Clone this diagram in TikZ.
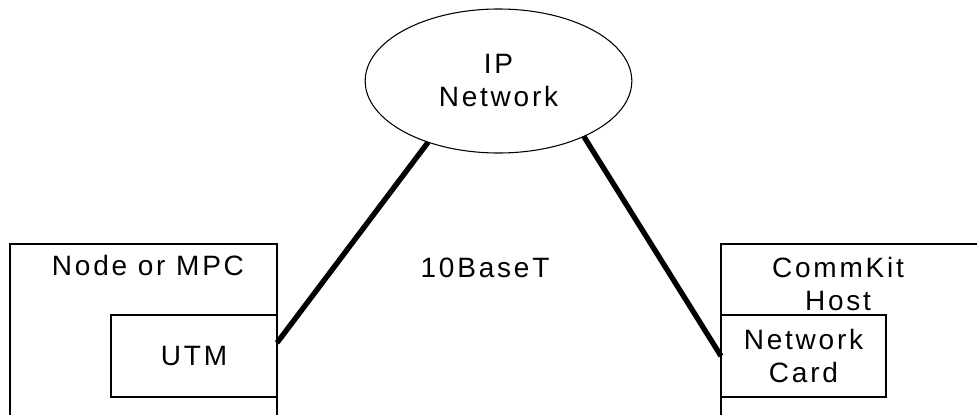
\documentclass[tikz,border=0pt]{standalone}
\usepackage{fontspec}
\setmainfont{Liberation Sans}[LetterSpace=10]
\usetikzlibrary{shapes.geometric}
\tikzset{
	box/.style={draw, line width=0.8pt, rectangle, inner sep=0pt, outer sep=0pt, align=center},
	lbl/.style={inner sep=0pt, align=center},
	cable/.style={line width=4pt}
}

\begin{document}
\begin{tikzpicture}[x=0.75pt, y=-0.75pt, font=\fontsize{21}{24.75}\selectfont]
			%%%%% START %%%%%
			
			\useasboundingbox (0, 0) rectangle (977, 414);
			\clip (0, 0) rectangle (977, 414);
			
			% cloud
			\node[ellipse, draw, line width=0.8pt, inner sep=0pt, outer sep=0pt, align=center,
				minimum width=200pt, minimum height=108pt] (ipnet) at (498.5, 81) {IP\\Network};
			
			% left side
			\draw[line width=0.8pt] (10, 244) rectangle (277, 420);
			\node[lbl] (nodempc) at (148, 265) {Node or MPC};
			\node[box, minimum width=124.5pt, minimum height=61.5pt] (utm) at (194, 356) {UTM};
			
			% right side
			\draw[line width=0.8pt] (721, 244) rectangle (990, 420);
			\node[lbl] (host) at (838, 284) {CommKit\\Host};
			\node[box, minimum width=123.75pt, minimum height=61.5pt] (card) at (803.5, 356) {Network\\Card};
			
			\node[lbl] (tenbase) at (485, 268) {10BaseT};
			
			% cables
			\draw[cable] (utm.9) -- (ipnet.221);
			\draw[cable] (card.west) -- (ipnet.-33);
			
			%%%%% END %%%%%
		\end{tikzpicture}
\end{document}
